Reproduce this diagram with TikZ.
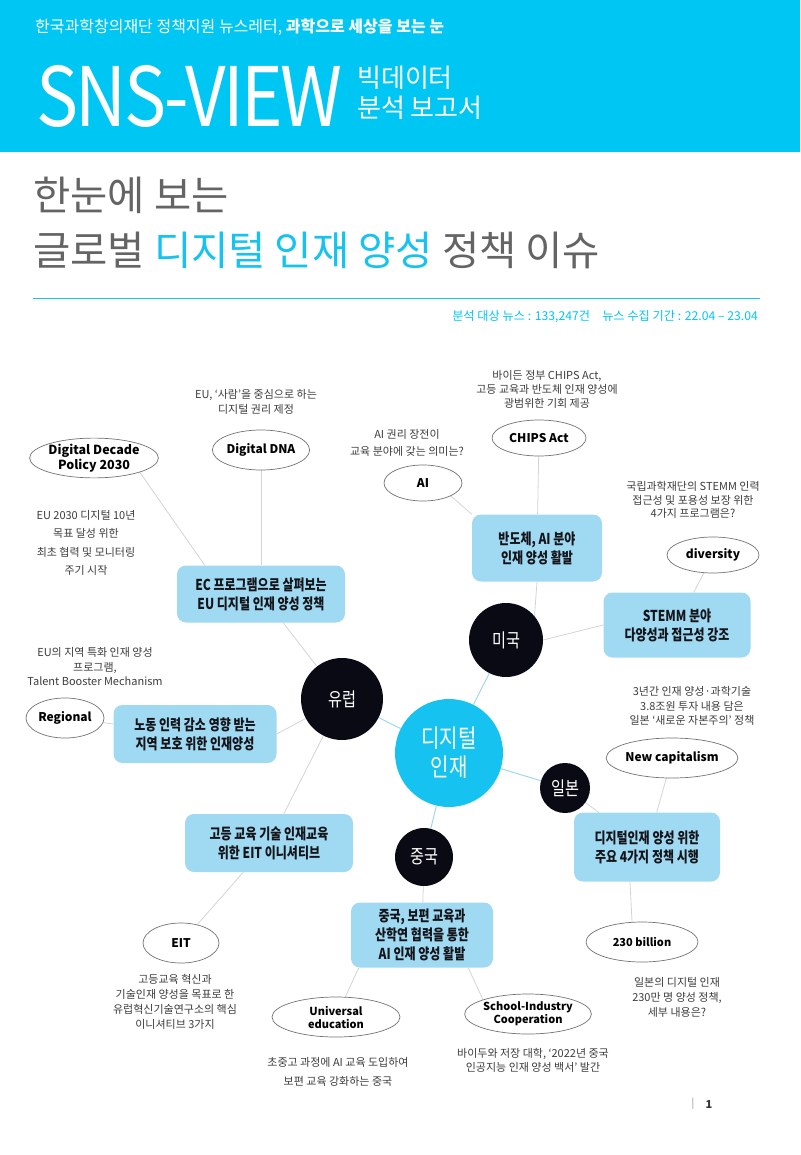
\documentclass[tikz,border=0pt]{standalone}
\usepackage{fontspec}
\setmainfont{Noto Sans CJK KR}
\newfontfamily\condfont[FakeStretch=0.8]{Noto Sans CJK KR}
\newfontfamily\logofont[FakeStretch=0.86,LetterSpace=-3]{Noto Sans CJK KR}
\usetikzlibrary{shapes.geometric}

\definecolor{snscyan}{RGB}{0,198,243}
\definecolor{hubcyan}{RGB}{22,195,240}
\definecolor{boxblue}{RGB}{160,217,242}
\definecolor{boxtext}{RGB}{20,20,25}
\definecolor{nodeblack}{RGB}{10,10,20}
\definecolor{linegray}{RGB}{212,212,212}
\definecolor{linkblue}{RGB}{160,215,236}
\definecolor{titlegray}{RGB}{100,100,100}
\definecolor{notegray}{RGB}{60,60,60}

\pgfdeclarelayer{background}
\pgfsetlayers{background,main}

\begin{document}
\begin{tikzpicture}[x=1pt, y=-1pt,
  hub/.style={circle, fill=hubcyan, minimum size=108pt, inner sep=0pt, align=center,
    text=white, font=\condfont\fontsize{25}{29}\selectfont},
  country/.style={circle, fill=nodeblack, inner sep=0pt, text=white,
    font=\condfont\fontsize{19}{22}\selectfont},
  topic/.style={rectangle, rounded corners=9pt, fill=boxblue, inner sep=0pt, align=center,
    text=boxtext, font=\condfont\bfseries\fontsize{15}{19}\selectfont},
  keyword/.style={ellipse, draw=black!55, line width=0.7pt, fill=white, inner sep=0pt,
    align=center, font=\bfseries\fontsize{12}{14}\selectfont},
  note/.style={align=center, text=notegray, font=\fontsize{11}{14.5}\selectfont},
  link/.style={draw=linegray, line width=0.8pt},
  hublink/.style={draw=linkblue, line width=1pt}]

\useasboundingbox (0,0) rectangle (800,1155);

% header band
\fill[snscyan] (0,0) rectangle (800,152);
\node[anchor=west, text=white, font=\fontsize{16}{18}\selectfont, inner sep=0pt] (kofac) at (35,27)
  {한국과학창의재단 정책지원 뉴스레터, \textbf{과학으로 세상을 보는 눈}};
\node[anchor=west, text=white, font=\logofont\fontsize{82}{82}\selectfont, inner sep=0pt] (logo) at (36,96) {SNS-VIEW};
\node[anchor=west, text=white, align=left, font=\fontsize{26}{30}\selectfont, inner sep=0pt] (report) at (357,93)
  {빅데이터\\분석 보고서};

% title
\node[anchor=west, text=titlegray, font=\fontsize{40.5}{42}\selectfont, inner sep=0pt] (title1) at (33,195) {한눈에 보는};
\node[anchor=west, text=titlegray, font=\fontsize{40.5}{42}\selectfont, inner sep=0pt] (title2) at (33,250)
  {글로벌 \textcolor{hubcyan}{디지털 인재 양성} 정책 이슈};
\draw[hubcyan, line width=0.8pt] (33,298) -- (760,298);
\node[anchor=east, text=snscyan, font=\fontsize{12.2}{14}\selectfont, inner sep=0pt] (stats) at (758,317)
  {분석 대상 뉴스 : 133,247건\quad 뉴스 수집 기간 : 22.04 – 23.04};

% hub and countries
\node[hub] (hub) at (449,753) {디지털\\인재};
\node[country, minimum size=82pt] (eu) at (342,699) {유럽};
\node[country, minimum size=74pt] (us) at (506,640) {미국};
\node[country, minimum size=50pt] (jp) at (565,788) {일본};
\node[country, minimum size=58pt] (cn) at (424,857) {중국};

% policy boxes
\node[topic, minimum width=168pt, minimum height=57pt] (ecbox) at (261,594) {EC 프로그램으로 살펴보는\\EU 디지털 인재 양성 정책};
\node[topic, minimum width=163pt, minimum height=58pt] (nodongbox) at (195,734) {노동 인력 감소 영향 받는\\지역 보호 위한 인재양성};
\node[topic, minimum width=168pt, minimum height=58pt] (eitbox) at (269,843) {고등 교육 기술 인재교육\\위한 EIT 이니셔티브};
\node[topic, minimum width=130pt, minimum height=67pt] (chipbox) at (537,548) {반도체, AI 분야\\인재 양성 활발};
\node[topic, minimum width=147pt, minimum height=65pt] (stemmbox) at (677,625) {STEMM 분야\\다양성과 접근성 강조};
\node[topic, minimum width=146pt, minimum height=69pt] (jpbox) at (647,847) {디지털인재 양성 위한\\주요 4가지 정책 시행};
\node[topic, minimum width=142pt, minimum height=65pt] (cnbox) at (422,935) {중국, 보편 교육과\\산학연 협력을 통한\\AI 인재 양성 활발};

% keywords
\node[keyword, minimum width=124pt, minimum height=38pt, font=\bfseries\fontsize{12.5}{15}\selectfont] (ddp) at (94,458) {Digital Decade\\Policy 2030};
\node[keyword, minimum width=94pt, minimum height=40pt] (dna) at (261,450) {Digital DNA};
\node[keyword, minimum width=78pt, minimum height=36pt] (ai) at (423,483) {AI};
\node[keyword, minimum width=94pt, minimum height=36pt] (chips) at (539,438) {CHIPS Act};
\node[keyword, minimum width=92pt, minimum height=36pt] (div) at (713,555) {diversity};
\node[keyword, minimum width=78pt, minimum height=40pt] (reg) at (65,718) {Regional};
\node[keyword, minimum width=126pt, minimum height=40pt] (newcap) at (672,758) {New capitalism};
\node[keyword, minimum width=76pt, minimum height=40pt] (eit) at (181,943) {EIT};
\node[keyword, minimum width=128pt, minimum height=40pt, font=\bfseries\fontsize{11}{13}\selectfont] (uni) at (336,1017) {Universal\\education};
\node[keyword, minimum width=126pt, minimum height=40pt, font=\bfseries\fontsize{11}{13}\selectfont] (sch) at (528,1014) {School-Industry\\Cooperation};
\node[keyword, minimum width=112pt, minimum height=40pt, font=\bfseries\fontsize{11}{13}\selectfont] (bil) at (642,942) {230 billion};

% notes
\node[note] (dnanote) at (256,402) {EU, ‘사람’을 중심으로 하는\\디지털 권리 제정};
\node[note, font=\fontsize{11}{18.3}\selectfont] (ddpnote) at (86,543) {EU 2030 디지털 10년\\목표 달성 위한\\최초 협력 및 모니터링\\주기 시작};
\node[note, font=\fontsize{11}{17}\selectfont] (ainote) at (407,443) {AI 권리 장전이\\교육 분야에 갖는 의미는?};
\node[note, font=\fontsize{11}{14}\selectfont] (chipsnote) at (547,389) {바이든 정부 CHIPS Act,\\고등 교육과 반도체 인재 양성에\\광범위한 기회 제공};
\node[note, font=\fontsize{11}{13.5}\selectfont] (divnote) at (693,500) {국립과학재단의 STEMM 인력\\접근성 및 포용성 보장 위한\\4가지 프로그램은?};
\node[note] (regnote) at (95,667) {EU의 지역 특화 인재 양성\\프로그램,\\Talent Booster Mechanism};
\node[note] (capnote) at (692,706) {3년간 인재 양성·과학기술\\3.8조원 투자 내용 담은\\일본 ‘새로운 자본주의’ 정책};
\node[note, font=\fontsize{11}{15}\selectfont] (eitnote) at (175,1002) {고등교육 혁신과\\기술인재 양성을 목표로 한\\유럽혁신기술연구소의 핵심\\이니셔티브 3가지};
\node[note, font=\fontsize{11}{19}\selectfont] (uninote) at (338,1072) {초중고 과정에 AI 교육 도입하여\\보편 교육 강화하는 중국};
\node[note, font=\fontsize{11}{14}\selectfont] (schnote) at (533,1060) {바이두와 저장 대학, ‘2022년 중국\\인공지능 인재 양성 백서’ 발간};
\node[note, font=\fontsize{11}{15}\selectfont] (bilnote) at (677,997) {일본의 디지털 인재\\230만 명 양성 정책,\\세부 내용은?};

% page number
\node[text=black!45, font=\fontsize{10}{12}\selectfont] (bar) at (693,1104) {|};
\node[text=black!80, font=\bfseries\fontsize{11}{12}\selectfont] (page) at (709,1104) {1};

% connectors
\begin{pgfonlayer}{background}
\draw[hublink] (hub) -- (eu);
\draw[hublink] (hub) -- (us);
\draw[hublink] (hub) -- (jp);
\draw[hublink] (hub) -- (cn);
\draw[link] (eu) -- (ecbox);
\draw[link] (nodongbox.east) -- (eu);
\draw[link] (eu) -- (eitbox);
\draw[link] (ddp.south east) -- ([xshift=28pt]ecbox.north west);
\draw[link] (dna) -- (ecbox);
\draw[link] (reg) -- (nodongbox);
\draw[link] (eitbox) -- (eit);
\draw[link] (us.40) -- (chipbox.south);
\draw[link] (us.east) -- (stemmbox.west);
\draw[link] (ai.south east) -- (chipbox.north west);
\draw[link] (chips) -- (chipbox);
\draw[link] (div) -- (stemmbox);
\draw[link] (jp) -- (jpbox);
\draw[link] (newcap) -- (jpbox);
\draw[link] ([xshift=-17pt]jpbox.south) -- ([xshift=-10pt]bil.north);
\draw[link] (cn) -- (cnbox);
\draw[link] ([xshift=8pt]cnbox.south west) -- (uni);
\draw[link] ([xshift=-25pt]cnbox.south east) -- (sch.north west);
\end{pgfonlayer}

\end{tikzpicture}
\end{document}
